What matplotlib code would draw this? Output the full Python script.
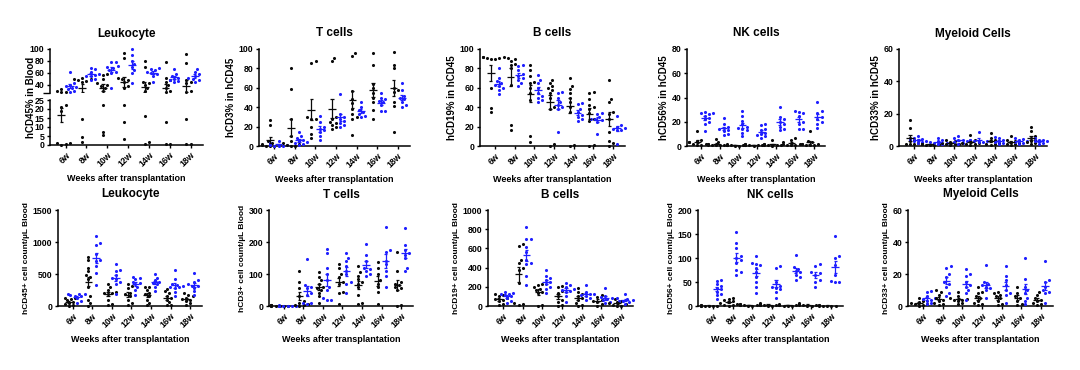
import matplotlib
matplotlib.use("Agg")
import matplotlib.pyplot as plt
import numpy as np

plt.rcParams["font.family"] = ["Liberation Sans", "DejaVu Sans"]
plt.rcParams["font.weight"] = "bold"
plt.rcParams["axes.labelweight"] = "bold"
plt.rcParams["axes.titleweight"] = "bold"

WEEKS = ["6w", "8w", "10w", "12w", "14w", "16w", "18w"]
XLABEL = "Weeks after transplantation"
BLACK = "#0a0a0a"
BLUE = "#1f1fff"

# ---- top row: percentages (black group / blue group) ----
CD45_PCT_K = [[27, 28, 30, 33, 22, 21, 19, 1, 0.5, 0.2, 1],
              [52, 50, 49, 48, 47, 45, 14.5, 4.7, 1.5],
              [58, 57, 50, 42, 40, 38, 35, 30, 22, 7.5, 5.5],
              [94, 85, 52, 50, 48, 45, 38, 35, 22.5, 13, 3.5],
              [80, 70, 45, 42, 40, 35, 30, 16, 1.5, 0.8],
              [78, 52, 48, 45, 40, 35, 30, 28, 13, 0.8, 0.5],
              [92, 77, 48, 45, 42, 30, 28, 14.5, 0.5, 0.3]]
CD45_PCT_B = [[61, 42, 40, 38, 36, 35, 33, 30, 28],
              [68, 66, 62, 58, 57, 55, 54, 50, 48],
              [78, 78, 72, 70, 68, 65, 62, 60, 35],
              [100, 90, 80, 75, 70, 65, 60, 42],
              [68, 66, 64, 62, 60, 58, 55, 45],
              [66, 58, 55, 52, 50, 48, 46, 44],
              [67, 62, 58, 55, 52, 50, 48, 45]]

CD3_PCT_K = [[27, 22, 5, 3, 2, 1, 0.5, 0, 0, 1],
             [80, 59, 28, 10, 5, 3, 2, 1, 0.5, 0],
             [88, 86, 30, 28, 28, 20, 12, 8],
             [91, 88, 30, 28, 25, 24, 22, 20, 18],
             [96, 93, 57, 48, 44, 38, 33, 30, 28, 11],
             [96, 84, 64, 60, 55, 50, 45, 37, 28],
             [97, 84, 80, 60, 58, 56, 45, 41, 14]]
CD3_PCT_B = [[5, 3, 2, 1, 1, 0.5, 0.5, 0],
             [14, 10, 8, 6, 5, 4, 3, 2, 1],
             [31, 25, 20, 18, 16, 14, 10, 6],
             [54, 33, 30, 28, 26, 24, 22, 20],
             [45, 40, 37, 35, 33, 31, 30],
             [55, 50, 48, 46, 45, 42, 36, 36],
             [65, 58, 52, 50, 48, 45, 42, 40]]

CD19_PCT_K = [[92, 92, 91, 91, 90, 90, 60, 39, 35],
              [92, 91, 90, 88, 85, 84, 80, 63, 22, 16],
              [84, 78, 72, 66, 65, 60, 55, 47, 10, 4],
              [68, 65, 62, 60, 58, 55, 50, 40, 38, 2, 0.5],
              [70, 62, 59, 55, 50, 45, 40, 35, 0.5, 1],
              [56, 55, 48, 42, 40, 38, 34, 28, 26, 1, 0.5],
              [68, 48, 45, 35, 33, 28, 14, 5, 3, 0.5]]
CD19_PCT_B = [[80, 70, 67, 65, 63, 62, 60, 58, 54],
              [84, 82, 78, 74, 72, 70, 68, 65, 62],
              [73, 68, 65, 60, 55, 52, 50, 47, 45],
              [56, 55, 50, 45, 42, 40, 38, 14],
              [44, 43, 38, 35, 32, 30, 28, 26],
              [34, 33, 30, 28, 28, 27, 25, 12],
              [31, 22, 20, 19, 18, 17, 16, 2]]

CD56_PCT_K = [[12, 5, 4, 3, 3, 2, 2, 1, 1],
              [6, 3, 2, 2, 1, 1, 1, 0.5, 0.5],
              [1.5, 1, 1, 0.8, 0.5, 0.5, 0.3, 0.2],
              [2, 1.5, 1, 1, 0.8, 0.5, 0.5, 0.3],
              [5, 2, 1.5, 1, 1, 0.5, 0.5, 0.3],
              [7, 5, 3, 2, 2, 1, 1, 0.5],
              [12, 4, 3, 2, 2, 1.5, 1, 0.5, 0.5]]
CD56_PCT_B = [[28, 27, 27, 26, 25, 23, 22, 20, 18, 12],
              [23, 18, 16, 15, 14, 13, 12, 10, 9],
              [29, 25, 21, 18, 16, 15, 14, 13, 11, 8],
              [18, 17, 14, 13, 11, 10, 9, 8, 7],
              [32, 24, 22, 20, 18, 16, 14, 13],
              [29, 28, 27, 25, 20, 18, 14, 14],
              [36, 29, 27, 24, 22, 20, 18, 15]]

CD33_PCT_K = [[16, 11, 5, 4, 3, 2, 1.5, 1, 1],
              [1.5, 1.2, 1, 1, 0.8, 0.5, 0.5],
              [3.5, 3, 2.5, 2, 1.5, 1, 1, 0.5],
              [7, 4, 3, 2, 2, 1.5, 1, 0.5],
              [8, 5, 4, 3, 2, 1.5, 1, 0.5],
              [6, 4, 3, 2.5, 2, 1.5, 1, 0.5],
              [12, 9, 6, 5, 4, 3, 2.5, 2, 1]]
CD33_PCT_B = [[6, 5, 4.5, 4, 3.5, 3, 3, 2.5, 2],
              [5, 4, 3, 2.5, 2, 2, 1.5, 1],
              [6, 5, 4, 3.5, 3, 2.5, 2, 1.5],
              [8.5, 4, 3.5, 3, 3, 2.5, 2.5],
              [5.5, 5, 4, 3, 2.5, 2, 1],
              [5, 4.5, 4, 3, 2.5, 2, 1.5],
              [5, 4, 3.5, 3, 3, 2, 1.5]]

# ---- bottom row: absolute counts per uL ----
CD45_CNT_K = [[130, 120, 110, 90, 70, 50, 30, 10, 0],
              [770, 720, 600, 540, 480, 460, 420, 300, 150, 100, 40, 0],
              [350, 290, 250, 220, 210, 200, 190, 100, 30, 10],
              [340, 310, 280, 200, 180, 150, 100, 40, 10],
              [300, 290, 250, 200, 180, 150, 100, 50, 10],
              [270, 230, 200, 160, 130, 100, 60, 20, 10],
              [200, 170, 150, 130, 110, 100, 80, 40, 10]]
CD45_CNT_B = [[190, 185, 180, 170, 160, 150, 120, 80, 50],
              [1090, 980, 960, 820, 720, 700, 620, 520, 330],
              [650, 560, 540, 480, 430, 420, 380, 350, 180],
              [460, 440, 420, 380, 360, 340, 300, 250, 170],
              [500, 440, 400, 380, 360, 340, 300, 230],
              [570, 420, 350, 330, 310, 300, 290, 280, 220, 150],
              [520, 410, 380, 340, 320, 310, 280, 230, 170]]

CD3_CNT_K = [[3, 2, 2, 1, 1, 0.5, 0.5, 0, 0],
             [110, 75, 55, 30, 15, 10, 5, 3, 2, 0],
             [105, 90, 80, 70, 60, 55, 50, 40, 30, 10],
             [130, 120, 100, 90, 75, 70, 45, 40, 5],
             [125, 105, 95, 85, 75, 70, 60, 35, 10, 5],
             [138, 120, 100, 80, 70, 60, 45, 5],
             [170, 110, 75, 70, 65, 60, 55, 50, 2, 0]]
CD3_CNT_B = [[2, 1.5, 1, 1, 0.5, 0.5, 0],
             [148, 65, 60, 55, 40, 35, 10, 8, 5],
             [178, 165, 120, 100, 80, 60, 50, 25, 20, 18],
             [165, 150, 140, 125, 110, 100, 75, 70, 40],
             [195, 160, 140, 120, 115, 110, 100, 95],
             [248, 175, 170, 140, 130, 110, 95, 58],
             [245, 190, 175, 165, 160, 150, 120, 110]]

CD19_CNT_K = [[120, 110, 100, 80, 70, 60, 50, 20, 10],
              [650, 630, 480, 450, 400, 380, 240, 30, 20, 10],
              [230, 220, 200, 180, 170, 150, 140, 10, 5],
              [210, 200, 160, 140, 100, 60, 40, 10, 5],
              [190, 150, 120, 100, 80, 60, 30, 10, 0],
              [110, 90, 70, 60, 50, 40, 20, 5],
              [70, 50, 40, 30, 20, 10, 5, 0]]
CD19_CNT_B = [[145, 140, 130, 120, 110, 100, 80, 50, 30],
              [820, 700, 700, 610, 560, 480, 450, 440, 310, 220],
              [370, 310, 290, 270, 250, 230, 200, 180, 140],
              [240, 220, 200, 180, 170, 160, 150, 100, 40],
              [220, 150, 130, 120, 110, 100, 80, 60],
              [190, 100, 90, 80, 70, 60, 40, 30],
              [120, 80, 70, 60, 55, 50, 40, 20]]

CD56_CNT_K = [[2, 1.5, 1, 1, 0.5, 0.5, 0.2, 0],
              [17, 15, 12, 10, 8, 6, 5, 3, 2, 1],
              [5, 4, 3, 2, 2, 1.5, 1, 0.5],
              [6, 4, 3, 2, 2, 1.5, 1, 0.5],
              [4, 3, 2, 1.5, 1, 1, 0.5],
              [6, 4, 3, 2, 1.5, 1, 0.5],
              [2, 1.5, 1, 1, 0.5, 0.5, 0.2]]
CD56_CNT_B = [[55, 52, 45, 42, 38, 35, 30, 25, 22, 14],
              [154, 132, 120, 105, 100, 95, 90, 75, 70, 65],
              [104, 90, 88, 85, 80, 70, 60, 50, 40, 27],
              [84, 80, 50, 42, 40, 38, 35, 30, 16],
              [106, 82, 78, 72, 70, 65, 60, 55],
              [88, 84, 70, 68, 65, 55, 50, 40],
              [145, 105, 100, 85, 65, 52, 50, 50]]

CD33_CNT_K = [[5, 3, 2.5, 2, 1.5, 1, 0.5, 0.3],
              [10, 9, 7, 5, 4, 3, 2, 1, 0.5],
              [9, 6, 5, 4.5, 4, 3.5, 3, 2, 1],
              [12, 9, 8, 6, 5, 3, 2, 1, 0.5],
              [9, 8, 7, 6, 5, 3, 1, 0.5],
              [12, 8, 6, 5, 3, 1, 0.5],
              [9, 7, 5, 4, 3, 2, 1, 0.5]]
CD33_CNT_B = [[9.5, 8.5, 6, 5, 4.5, 4, 3, 2, 1],
              [25, 24, 20, 18, 15, 14, 12, 8, 6],
              [23, 20, 19, 15, 13, 12, 10, 8, 4],
              [25.5, 15, 14, 13, 12, 11, 10, 5],
              [25, 19, 16, 13, 10, 8, 7, 2],
              [30, 17, 12, 10, 8, 5, 3, 1],
              [28, 16, 15, 12, 10, 9, 8, 2]]

PANELS_TOP = [
    ("Leukocyte", "hCD45% in Blood", CD45_PCT_K, CD45_PCT_B, None, None),
    ("T cells", "hCD3% in hCD45", CD3_PCT_K, CD3_PCT_B, (0, 100), [0, 20, 40, 60, 80, 100]),
    ("B cells", "hCD19% in hCD45", CD19_PCT_K, CD19_PCT_B, (0, 100), [0, 20, 40, 60, 80, 100]),
    ("NK cells", "hCD56% in hCD45", CD56_PCT_K, CD56_PCT_B, (0, 80), [0, 20, 40, 60, 80]),
    ("Myeloid Cells", "hCD33% in hCD45", CD33_PCT_K, CD33_PCT_B, (0, 60), [0, 20, 40, 60]),
]
PANELS_BOT = [
    ("Leukocyte", "hCD45+ cell count/µL Blood", CD45_CNT_K, CD45_CNT_B, (0, 1500), [0, 500, 1000, 1500]),
    ("T cells", "hCD3+ cell count/µL Blood", CD3_CNT_K, CD3_CNT_B, (0, 300), [0, 100, 200, 300]),
    ("B cells", "hCD19+ cell count/µL Blood", CD19_CNT_K, CD19_CNT_B, (0, 1000), [0, 200, 400, 600, 800, 1000]),
    ("NK cells", "hCD56+ cell count/µL Blood", CD56_CNT_K, CD56_CNT_B, (0, 200), [0, 50, 100, 150, 200]),
    ("Myeloid Cells", "hCD33+ cell count/µL Blood", CD33_CNT_K, CD33_CNT_B, (0, 60), [0, 20, 40, 60]),
]

# pixel boxes (left, right) for each panel; rows share top/bottom
TOP_X = [(50, 203), (259, 410), (480, 625), (687, 825), (899, 1047)]
BOT_X = [(58, 202), (269, 413), (488, 633), (698, 843), (908, 1053)]
W, H = 1080, 370
XLIM = (-0.75, 6.6)
OFF = 0.2


def rect(x0, x1, ytop, ybot):
    return [x0 / W, 1 - ybot / H, (x1 - x0) / W, (ybot - ytop) / H]


def swarm(vals, px_per_y, dot=3.2, max_k=4):
    """Deterministic beeswarm offsets in pixels."""
    vals = np.asarray(vals, float)
    offs = np.zeros(len(vals))
    placed = []
    step = dot * 0.65
    for i in np.argsort(vals):
        y = vals[i] * px_per_y
        chosen = 0.0
        for k in range(max_k + 1):
            cands = [0.0] if k == 0 else [k * step, -k * step]
            ok = None
            for c in cands:
                if all((c - px) ** 2 + (y - py) ** 2 >= dot ** 2 for px, py in placed):
                    ok = c
                    break
            if ok is not None:
                chosen = ok
                break
            chosen = cands[-1] if k == max_k else chosen
        offs[i] = chosen
        placed.append((chosen, y))
    return offs


def group(ax, xc, vals, color, px_per_x, px_per_y, show=None):
    v = np.asarray(vals, float)
    pts = v if show is None else v[show(v)]
    if len(pts):
        dx = swarm(pts, px_per_y) / px_per_x
        ax.scatter(xc + dx, pts, s=5, color=color, lw=0, clip_on=False, zorder=3)
    m = v.mean()
    se = v.std(ddof=1) / np.sqrt(len(v))
    ax.hlines(m, xc - 0.19, xc + 0.19, color=color, lw=0.9, zorder=4)
    ax.vlines(xc, m - se, m + se, color=color, lw=0.9, zorder=4)
    ax.hlines([m - se, m + se], xc - 0.08, xc + 0.08, color=color, lw=0.9, zorder=4)


def style(ax, bottom=True):
    for s in ("top", "right"):
        ax.spines[s].set_visible(False)
    for s in ("left", "bottom"):
        ax.spines[s].set_linewidth(1.1)
    ax.tick_params(length=2.5, width=1, labelsize=6.3, pad=1.5)
    ax.set_xlim(*XLIM)
    ax.set_xticks(range(len(WEEKS)))
    if bottom:
        ax.set_xticklabels(WEEKS, rotation=45, ha="right", rotation_mode="anchor")
        ax.set_xlabel(XLABEL, fontsize=6.5, labelpad=4)
    else:
        ax.spines["bottom"].set_visible(False)
        ax.tick_params(axis="x", bottom=False, labelbottom=False)


def draw(ax, kvals, bvals, ylim, box_px, show=None):
    ax.set_ylim(*ylim)
    px_x = box_px[0] / (XLIM[1] - XLIM[0])
    px_y = box_px[1] / (ylim[1] - ylim[0])
    for i in range(len(WEEKS)):
        group(ax, i - OFF, kvals[i], BLACK, px_x, px_y, show)
        group(ax, i + OFF, bvals[i], BLUE, px_x, px_y, show)


fig = plt.figure(figsize=(W / 100, H / 100), dpi=100)

# top row
for (title, ylab, k, b, ylim, ticks), (x0, x1) in zip(PANELS_TOP, TOP_X):
    if ylim is None:
        # broken y axis for the first panel
        ax_u = fig.add_axes(rect(x0, x1, 49, 93))
        ax_l = fig.add_axes(rect(x0, x1, 100, 145))
        draw(ax_u, k, b, (26, 100), (x1 - x0, 44), show=lambda v: v >= 26)
        draw(ax_l, k, b, (0, 25), (x1 - x0, 45), show=lambda v: v < 25)
        style(ax_u, bottom=False)
        style(ax_l)
        ax_u.set_yticks([40, 60, 80, 100])
        ax_u.set_yticks([26], minor=True)
        ax_u.tick_params(which="minor", length=5, width=1)
        ax_l.set_yticks([0, 5, 10, 15, 20, 25])
        ax_u.set_title(title, fontsize=8.5, pad=9)
        fig.text(31 / W, 1 - 97 / H, ylab, rotation=90, fontsize=7,
                 fontweight="bold", ha="center", va="center")
        continue
    ax = fig.add_axes(rect(x0, x1, 49, 146))
    draw(ax, k, b, ylim, (x1 - x0, 97))
    style(ax)
    ax.set_yticks(ticks)
    ax.set_title(title, fontsize=8.5, pad=9)
    ax.set_ylabel(ylab, fontsize=7, labelpad=2)

# bottom row
for (title, ylab, k, b, ylim, ticks), (x0, x1) in zip(PANELS_BOT, BOT_X):
    ax = fig.add_axes(rect(x0, x1, 210, 306))
    draw(ax, k, b, ylim, (x1 - x0, 96))
    style(ax)
    ax.set_yticks(ticks)
    ax.set_title(title, fontsize=8.5, pad=9)
    ax.set_ylabel(ylab, fontsize=6, labelpad=2)

fig.savefig("out.png", dpi=100)
